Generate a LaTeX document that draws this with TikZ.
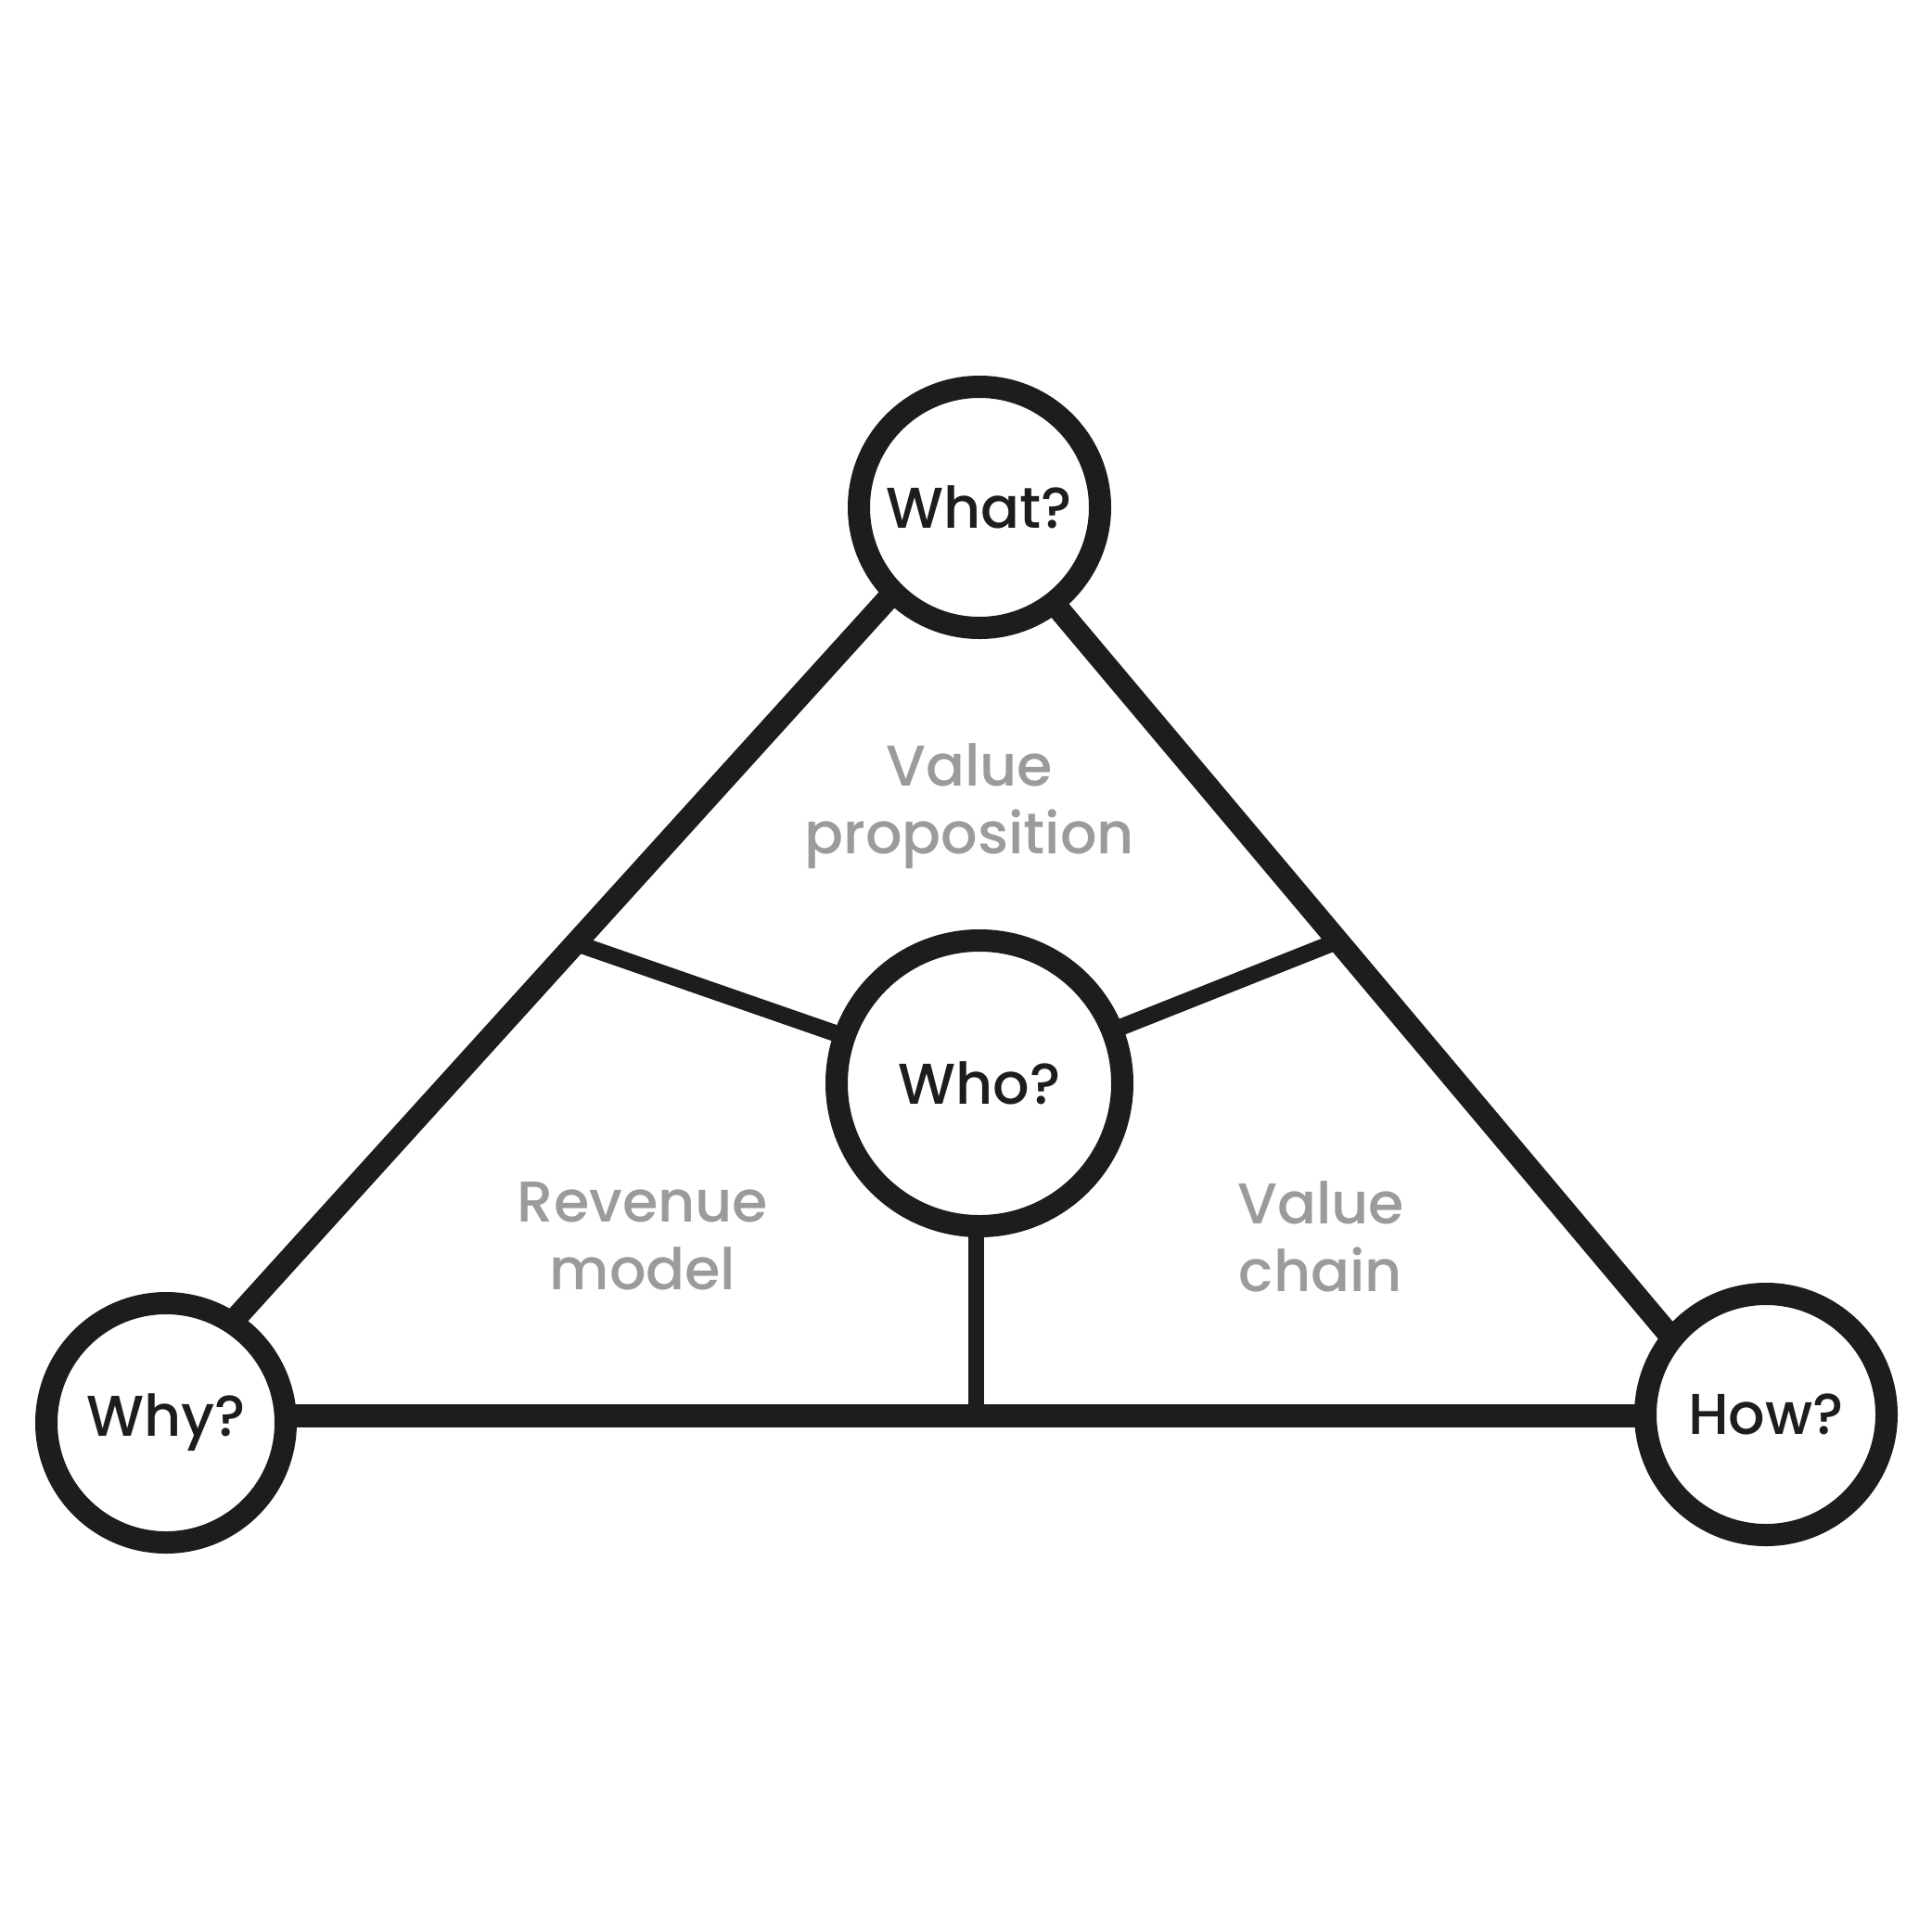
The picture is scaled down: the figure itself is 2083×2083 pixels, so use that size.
\documentclass[tikz,border=0pt]{standalone}
\usepackage{fontspec}
\setmainfont{Poppins}[UprightFont=* Medium]
\usetikzlibrary{calc}
\definecolor{ink}{HTML}{1D1D1B}
\definecolor{lblgrey}{HTML}{9B9B9B}
\pgfdeclarelayer{back}
\pgfdeclarelayer{bg}
\pgfsetlayers{back,bg,main}
\begin{document}
\begin{tikzpicture}[x=1pt,y=-1pt,
  hub/.style={circle, draw=ink, line width=24pt, minimum size=#1, inner sep=0pt, fill=white,
    font=\fontsize{62}{70}\selectfont, text=ink},
  edgeline/.style={draw=ink, line width=24pt, shorten <=-10pt, shorten >=-10pt},
  spoke/.style={draw=ink, line width=18pt},
  lbl/.style={text=lblgrey, align=center, font=\fontsize{62}{73}\selectfont}]
\begin{pgfonlayer}{back}
\useasboundingbox[fill=white] (0,0) rectangle (2083,2083);
\end{pgfonlayer}

\node[hub=260pt] (what) at (1056,547) {What?};
\node[hub=308pt] (who) at (1056,1168) {Who?};
\node[hub=258pt] (why) at (179,1534) {Why?};
\node[hub=260pt] (how) at (1904,1525) {How?};

\path (what.225.6) -- (why.56.3) coordinate[pos=0.48] (jl);
\path (what.308.3) -- (how.140.6) coordinate[pos=0.459] (jr);
\coordinate (bl) at ($(why.center)+(0,-8)$);
\coordinate (vt) at ($(who.center)+(-4,0)$);

\begin{pgfonlayer}{bg}
  \draw[edgeline] (what.225.6) -- (why.56.3);
  \draw[edgeline] (what.308.3) -- (how.140.6);
  \draw[draw=ink, line width=25pt] (bl) -- (bl -| how.center);
  \draw[draw=ink, line width=17pt] (vt) -- (vt |- bl);
  \draw[spoke] (jl) -- (who.center);
  \draw[spoke] (jr) -- (who.center);
\end{pgfonlayer}

\node[lbl] (vp) at (1045,869) {Value\\proposition};
\node[lbl] (rm) at (693,1333) {Revenue\\model};
\node[lbl] (vc) at (1424,1333) {Value\\chain};
\end{tikzpicture}
\end{document}
